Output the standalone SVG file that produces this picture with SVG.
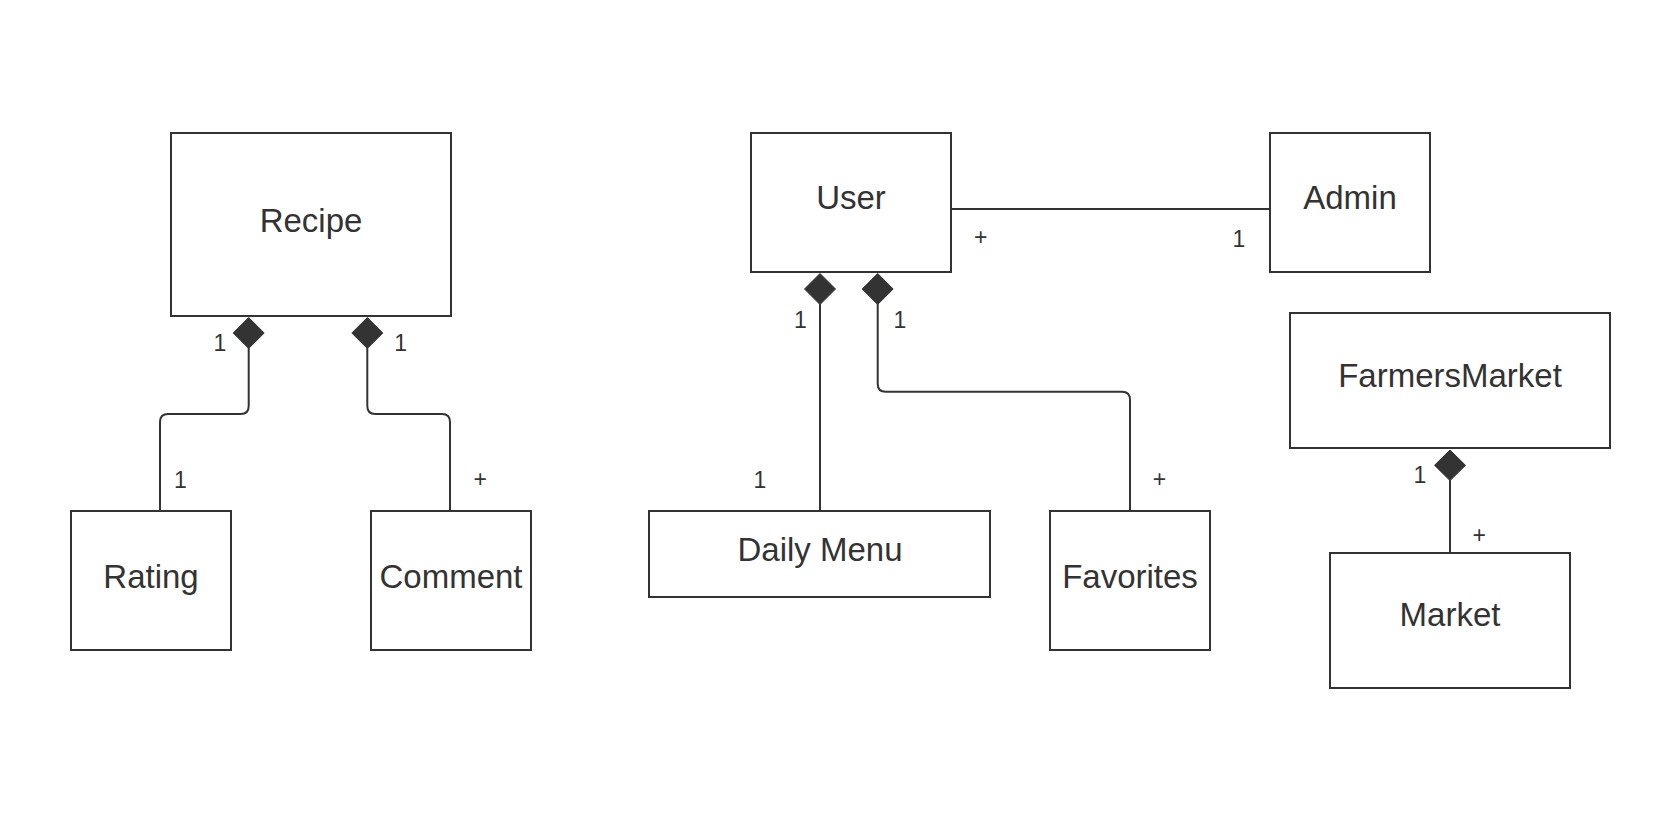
<svg xmlns="http://www.w3.org/2000/svg" width="1680" height="820" viewBox="0 0 1680 820">
  <style>
    .box { fill: #ffffff; stroke: #333333; stroke-width: 2; }
    .name { font-family: "Liberation Sans", Arial, sans-serif; font-size: 33px; fill: #333333; text-anchor: middle; }
    .lbl { font-family: "Liberation Sans", Arial, sans-serif; font-size: 23px; fill: #333333; text-anchor: middle; }
    .conn { fill: none; stroke: #333333; stroke-width: 2; }
    .dia { fill: #333333; stroke: #333333; stroke-width: 1; }
  </style>
  <rect x="0" y="0" width="1680" height="820" fill="#ffffff"/>

  <g id="connectors">
    <!-- Recipe - Rating -->
    <path class="conn" d="M248.7,348 V406 Q248.7,414 240.7,414 H168 Q160,414 160,422 V511"/>
    <polygon class="dia" points="248.7,317.5 264.2,333 248.7,348.5 233.2,333"/>
    <!-- Recipe - Comment -->
    <path class="conn" d="M367.3,348 V406 Q367.3,414 375.3,414 H442 Q450,414 450,422 V511"/>
    <polygon class="dia" points="367.3,317.5 382.8,333 367.3,348.5 351.8,333"/>
    <!-- User - Daily Menu -->
    <path class="conn" d="M820,304 V511"/>
    <polygon class="dia" points="820,273.5 835.5,289 820,304.5 804.5,289"/>
    <!-- User - Favorites -->
    <path class="conn" d="M877.7,304 V383.7 Q877.7,391.7 885.7,391.7 H1122 Q1130,391.7 1130,399.7 V511"/>
    <polygon class="dia" points="877.7,273.5 893.2,289 877.7,304.5 862.2,289"/>
    <!-- User - Admin -->
    <path class="conn" d="M951,209 H1270"/>
    <!-- FarmersMarket - Market -->
    <path class="conn" d="M1450,480 V553"/>
    <polygon class="dia" points="1450,450 1465.5,465.3 1450,480.6 1434.5,465.3"/>

    <text class="lbl" x="220" y="351">1</text>
    <text class="lbl" x="400.7" y="351">1</text>
    <text class="lbl" x="180.3" y="488">1</text>
    <text class="lbl" x="480.3" y="487">+</text>

    <text class="lbl" x="800.3" y="328">1</text>
    <text class="lbl" x="900" y="328">1</text>
    <text class="lbl" x="760" y="488">1</text>
    <text class="lbl" x="1159.5" y="487">+</text>

    <text class="lbl" x="980.7" y="245">+</text>
    <text class="lbl" x="1239" y="247">1</text>

    <text class="lbl" x="1420" y="483">1</text>
    <text class="lbl" x="1479.3" y="543">+</text>
  </g>

  <g id="recipe">
    <rect class="box" x="171" y="133" width="280" height="183"/>
    <text class="name" x="311" y="231.7">Recipe</text>
  </g>
  <g id="rating">
    <rect class="box" x="71" y="511" width="160" height="139"/>
    <text class="name" x="151" y="588">Rating</text>
  </g>
  <g id="comment">
    <rect class="box" x="371" y="511" width="160" height="139"/>
    <text class="name" x="451" y="588">Comment</text>
  </g>
  <g id="user">
    <rect class="box" x="751" y="133" width="200" height="139"/>
    <text class="name" x="851" y="209.3">User</text>
  </g>
  <g id="admin">
    <rect class="box" x="1270" y="133" width="160" height="139"/>
    <text class="name" x="1350" y="209">Admin</text>
  </g>
  <g id="daily-menu">
    <rect class="box" x="649" y="511" width="341" height="86"/>
    <text class="name" x="820" y="560.7">Daily Menu</text>
  </g>
  <g id="favorites">
    <rect class="box" x="1050" y="511" width="160" height="139"/>
    <text class="name" x="1130" y="587.7">Favorites</text>
  </g>
  <g id="farmers-market">
    <rect class="box" x="1290" y="313" width="320" height="135"/>
    <text class="name" x="1450" y="387.3">FarmersMarket</text>
  </g>
  <g id="market">
    <rect class="box" x="1330" y="553" width="240" height="135"/>
    <text class="name" x="1450" y="626">Market</text>
  </g>
</svg>
